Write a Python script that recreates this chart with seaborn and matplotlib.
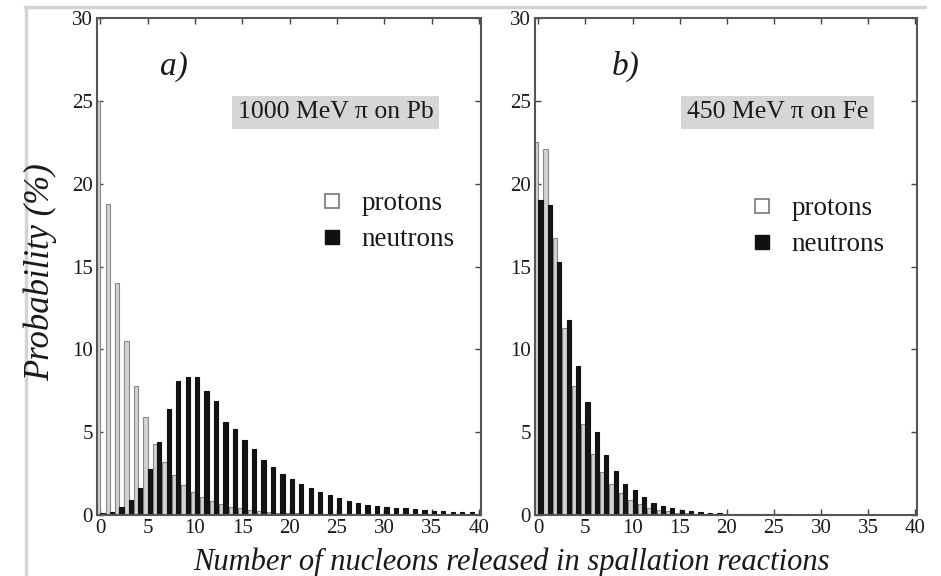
import numpy as np
import pandas as pd
import matplotlib.pyplot as plt
from matplotlib.lines import Line2D
import seaborn as sns

# nucleons released, 0..40
nucleons = list(range(41))

pb_protons = [25.0, 18.8, 14.0, 10.5, 7.8, 5.9, 4.3, 3.2, 2.4, 1.8,
              1.4, 1.1, 0.85, 0.65, 0.5, 0.4, 0.3, 0.25, 0.2, 0.15,
              0.12, 0.1, 0.08, 0.07, 0.06, 0.05, 0.04, 0.04, 0.03, 0.03,
              0.03, 0.02, 0.02, 0.02, 0.02, 0.01, 0.01, 0.01, 0.01, 0.01, 0.01]
pb_neutrons = [0.1, 0.2, 0.5, 0.9, 1.6, 2.8, 4.4, 6.4, 8.1, 8.3,
               8.3, 7.5, 6.9, 5.6, 5.2, 4.5, 4.0, 3.3, 2.9, 2.5,
               2.2, 1.9, 1.6, 1.4, 1.2, 1.0, 0.85, 0.7, 0.6, 0.55,
               0.5, 0.45, 0.4, 0.35, 0.3, 0.26, 0.24, 0.2, 0.2, 0.18, 0.15]

fe_protons = [22.5, 22.1, 16.7, 11.3, 7.8, 5.5, 3.7, 2.6, 1.9, 1.3,
              0.9, 0.65, 0.45, 0.3, 0.22, 0.15, 0.1, 0.08, 0.06, 0.05,
              0.05, 0.04, 0.04, 0.04, 0.03, 0.03, 0.03, 0.03, 0.03, 0.02,
              0.02, 0.02, 0.02, 0.02, 0.02, 0.02, 0.01, 0.01, 0.01, 0.01, 0.01]
fe_neutrons = [19.0, 18.7, 15.25, 11.8, 9.0, 6.85, 5.0, 3.6, 2.65, 1.9,
               1.5, 1.1, 0.75, 0.55, 0.4, 0.3, 0.25, 0.18, 0.12, 0.1,
               0.08, 0.07, 0.06, 0.05, 0.05, 0.04, 0.04, 0.03, 0.03, 0.03,
               0.03, 0.02, 0.02, 0.02, 0.02, 0.02, 0.02, 0.01, 0.01, 0.01, 0.01]

# label, box text, data, label x, box x, legend anchor
panels = [
    ("a)", "1000 MeV \u03c0 on Pb", pb_protons, pb_neutrons, 0.2, 0.622, (0.513, 0.70)),
    ("b)", "450 MeV \u03c0 on Fe", fe_protons, fe_neutrons, 0.237, 0.634, (0.495, 0.69)),
]

sns.set_style("ticks")
plt.rcParams['font.family'] = ['Liberation Serif', 'DejaVu Serif']

fig = plt.figure(figsize=(9.41, 5.76), dpi=100)
W, H = 941, 576
axes_px = [(97, 481), (535, 917)]
top_px, bot_px = 18, 515
ink = "#1a1a1a"

palette = {"protons": "#d2d2d2", "neutrons": "#141414"}

for (lbl, title, prot, neut, lx, bx, leg_xy), (x0, x1) in zip(panels, axes_px):
    ax = fig.add_axes([x0 / W, 1 - bot_px / H, (x1 - x0) / W, (bot_px - top_px) / H])
    df = pd.DataFrame({
        "n": nucleons * 2,
        "prob": prot + neut,
        "particle": ["protons"] * len(nucleons) + ["neutrons"] * len(nucleons),
    })
    sns.barplot(data=df, x="n", y="prob", hue="particle",
                hue_order=["protons", "neutrons"], palette=palette,
                native_scale=True, dodge=True, width=0.9, legend=False,
                linewidth=0.8, edgecolor="#111111", saturation=1, ax=ax)
    for bar in ax.containers[0]:
        bar.set_edgecolor("#888888")

    ax.set_xlim(-0.35, 40.2)
    ax.set_ylim(0, 30)
    ax.set_xticks(range(0, 41, 5))
    ax.set_yticks(range(0, 31, 5))
    ax.set_xlabel("")
    ax.set_ylabel("")
    ax.tick_params(direction="in", length=4, width=1, top=True, right=True,
                   labelsize=15, colors="#444444", labelcolor=ink, pad=3)
    for s in ax.spines.values():
        s.set_color("#555555")
        s.set_linewidth(1.5)

    ax.text(lx, 0.903, lbl, transform=ax.transAxes, fontsize=24,
            style="italic", ha="center", va="center", color=ink)
    ax.text(bx, 0.81, title, transform=ax.transAxes, fontsize=18.5,
            ha="center", va="center", color=ink,
            bbox=dict(boxstyle="square,pad=0.22", fc="#d6d6d6", ec="none"))

    handles = [
        Line2D([], [], marker="s", ls="none", markersize=10,
               markerfacecolor="white", markeredgecolor="#777777", markeredgewidth=1.2),
        Line2D([], [], marker="s", ls="none", markersize=10,
               markerfacecolor="#111111", markeredgecolor="#111111"),
    ]
    ax.legend(handles, ["protons", "neutrons"], loc="upper left",
              bbox_to_anchor=leg_xy, frameon=False, fontsize=19.5,
              handlelength=1.0, handletextpad=0.6, labelspacing=0.4,
              labelcolor=ink)

fig.text(0.043, 0.528, "Probability (%)", rotation=90, fontsize=25,
         style="italic", ha="center", va="center", color=ink)
fig.text(0.544, 0.024, "Number of nucleons released in spallation reactions",
         fontsize=22, style="italic", ha="center", va="center", color=ink)

# faint scan border
fig.add_artist(Line2D([25 / W, 925 / W], [1 - 7 / H, 1 - 7 / H],
                      color="#d4d4d4", lw=2.5))
fig.add_artist(Line2D([26 / W, 26 / W], [1 - 7 / H, 0],
                      color="#d4d4d4", lw=2.5))

fig.savefig("out.png", dpi=100)
